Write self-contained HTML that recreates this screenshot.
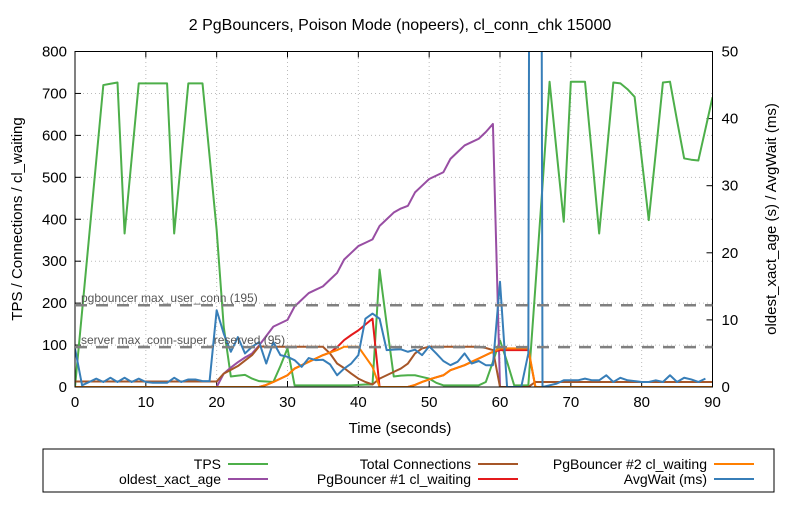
<!DOCTYPE html>
<html><head><meta charset="utf-8"><style>
body{margin:0;background:#fff;}
svg{font-family:"Liberation Sans",sans-serif;}
</style></head><body>
<svg id="chart" width="800" height="500" viewBox="0 0 800 500" xmlns="http://www.w3.org/2000/svg">
<rect width="800" height="500" fill="#fff"/>
<text x="400" y="30" text-anchor="middle" font-size="16">2 PgBouncers, Poison Mode (nopeers), cl_conn_chk 15000</text>
<g id="grid"></g>
<g id="ticks"></g>
<g id="series"></g>
<rect x="75" y="51.5" width="637.5" height="335.5" fill="none" stroke="#000" stroke-width="1"/>
<text x="400" y="433" text-anchor="middle" font-size="15">Time (seconds)</text>
<text transform="translate(22,219) rotate(-90)" text-anchor="middle" font-size="15">TPS / Connections / cl_waiting</text>
<text transform="translate(776,219) rotate(-90)" text-anchor="middle" font-size="15">oldest_xact_age (s) / AvgWait (ms)</text>
<g>
<rect x="43" y="449" width="731" height="43" fill="#fff" stroke="#000"/>
<g font-size="14" text-anchor="end">
<text x="221" y="469">TPS</text>
<line x1="228" y1="464" x2="268" y2="464" stroke="#4daf4a" stroke-width="2"/>
<text x="221" y="484">oldest_xact_age</text>
<line x1="228" y1="479" x2="268" y2="479" stroke="#984ea3" stroke-width="2"/>
<text x="471" y="469">Total Connections</text>
<line x1="478" y1="464" x2="518" y2="464" stroke="#a65628" stroke-width="2"/>
<text x="471" y="484">PgBouncer #1 cl_waiting</text>
<line x1="478" y1="479" x2="518" y2="479" stroke="#e41a1c" stroke-width="2"/>
<text x="707" y="469">PgBouncer #2 cl_waiting</text>
<line x1="714" y1="464" x2="754" y2="464" stroke="#ff7f00" stroke-width="2"/>
<text x="707" y="484">AvgWait (ms)</text>
<line x1="714" y1="479" x2="754" y2="479" stroke="#377eb8" stroke-width="2"/>
</g></g>
</svg>
<script>
const xTicks=[0,10,20,30,40,50,60,70,80,90];
const yTicks=[0,100,200,300,400,500,600,700,800];
const y2Ticks=[0,10,20,30,40,50];
const tps=[0,180,360,540,720,723,726,366,545,724,724,724,724,724,366,545,724,724,724,550,374,143,25,27,29,20,14,13,12,50,92,4,4,4,4,4,4,4,4,4,5,6,6,280,150,25,27,28,28,24,20,10,4,4,4,4,4,4,12,60,111,60,4,4,4,240,480,728,560,394,728,728,728,550,366,545,726,724,710,692,545,398,560,726,728,635,545,542,540,615,691];
const oldest=[0,0,0,0,0,0,0,0,0,0,0,0,0,0,0,0,0,0,0,0,0,2,2.9,3.7,4.4,5,6.2,7.6,9,9.5,10,12,13,14,14.5,15,16,17,19,20,21,21.5,22,24,25,26,26.6,27,29,30,31,31.5,32,34,35,36,36.5,37,38,39.2,0];
const totalConn=[13,13,13,13,13,13,13,13,13,13,13,13,13,13,13,13,13,13,13,13,13,32,41,50,63,76,97,96,96,96,96,96,96,96,96,96,80,56,45,32,20,12,6,20,28,36,44,56,80,92,96,96,96,96,96,96,96,96,93,88,0,0,0,0,0,12,12,12,12,12,12,12,12,12,12,12,12,12,12,12,12,12,12,12,12,12,12,12,12,12,12];
const pgb1Wait=[0,0,0,0,0,0,0,0,0,0,0,0,0,0,0,0,0,0,0,0,0,0,0,0,0,0,0,5,12,20,28,44,52,60,68,76,82,95,112,124,135,149,163,0,0,0,0,0,5,12,18,23,28,40,46,52,60,68,76,84,88,88,88,88,88,0,0,0,0,0,0,0,0,0,0,0,0,0,0,0,0,0,0,0,0,0,0,0,0,0,0];
const pgb2Wait=[0,0,0,0,0,0,0,0,0,0,0,0,0,0,0,0,0,0,0,0,0,0,0,0,0,0,0,5,12,20,28,44,52,60,68,76,82,88,96,96,96,72,48,0,0,0,0,0,5,12,18,23,28,40,46,52,60,68,76,84,92,92,92,92,92,0,0,0,0,0,0,0,0,0,0,0,0,0,0,0,0,0,0,0,0,0,0,0,0,0,0];
const avgWait=[92,4,12,20,12,22,12,22,12,20,12,10,10,10,22,12,18,18,14,14,183,127,84,119,80,96,107,56,107,76,72,64,48,69,64,65,54,28,44,56,76,163,175,163,88,89,90,84,89,76,97,80,62,52,60,80,56,62,52,52,251,0,0,0,80,7600,0,4,8,16,16,16,20,16,16,28,12,22,16,14,12,12,16,12,28,12,22,18,12,20];
const X0=75,X1=712.5,Y0=387,Y1=51.5;
const sx=t=>X0+(t/90)*(X1-X0);
const sy=v=>Y0-(v/800)*(Y0-Y1);
const NS="http://www.w3.org/2000/svg";
const svg=document.getElementById('chart');
const grid=document.getElementById('grid'),ticks=document.getElementById('ticks'),ser=document.getElementById('series');
function mk(tag,attrs,parent){const e=document.createElementNS(NS,tag);for(const k in attrs)e.setAttribute(k,attrs[k]);parent.appendChild(e);return e;}
// clip
const defs=mk('defs',{},svg);const cp=mk('clipPath',{id:'clip'},defs);mk('rect',{x:X0,y:Y1,width:X1-X0,height:Y0-Y1},cp);
ser.setAttribute('clip-path','url(#clip)');
xTicks.forEach(t=>{
 if(t>0&&t<90){const g=mk('line',{x1:sx(t),x2:sx(t),y1:Y0,y2:Y1,stroke:'#bbb','stroke-dasharray':'1,3'},grid);
 
 }
 mk('line',{x1:sx(t),x2:sx(t),y1:Y0,y2:Y0-6,stroke:'#000'},ticks);
 mk('line',{x1:sx(t),x2:sx(t),y1:Y1,y2:Y1+6,stroke:'#000'},ticks);
 const l=mk('text',{x:sx(t),y:Y0+20,'text-anchor':'middle','font-size':'15'},ticks);l.textContent=t;
 
 
});
yTicks.forEach(v=>{
 if(v>0&&v<800){const g=mk('line',{x1:X0,x2:X1,y1:sy(v),y2:sy(v),stroke:'#bbb','stroke-dasharray':'1,3'},grid);
 
 }
 mk('line',{x1:X0,x2:X0+6,y1:sy(v),y2:sy(v),stroke:'#000'},ticks);
 const l=mk('text',{x:X0-8,y:sy(v)+5,'text-anchor':'end','font-size':'15'},ticks);l.textContent=v;
 
 
});
y2Ticks.forEach(v=>{
 const y=sy(v*16);
 mk('line',{x1:X1,x2:X1-6,y1:y,y2:y,stroke:'#000'},ticks);
 const l=mk('text',{x:X1+9,y:y+5,'text-anchor':'start','font-size':'15'},ticks);l.textContent=v;
 
 
});
// reference lines
[[195,'pgbouncer max_user_conn (195)'],[95,'server max_conn-super_reserved (95)']].forEach(([v,txt])=>{
 const t=mk('text',{x:81,y:sy(v)-3,'font-size':'12',fill:'#555'},svg);t.textContent=txt;
 
 
 const l=mk('line',{x1:X0,x2:X1,y1:sy(v),y2:sy(v),stroke:'#808080','stroke-width':'2.5','stroke-dasharray':'12,9'},svg);
 
 
});
function line(arr,color,scale,name){
 const pts=arr.map((v,i)=>sx(i).toFixed(2)+','+sy(v*scale).toFixed(2)).join(' ');
 const p=mk('polyline',{points:pts,fill:'none',stroke:color,'stroke-width':'2','stroke-linejoin':'round'},ser);
 
 
}
line(tps,'#4daf4a',1,'tps-line');
line(oldest,'#984ea3',16,'oldest-xact-age-line');
line(totalConn,'#a65628',1,'total-connections-line');
line(pgb1Wait,'#e41a1c',1,'pgbouncer1-cl-waiting-line');
line(pgb2Wait,'#ff7f00',1,'pgbouncer2-cl-waiting-line');
line(avgWait,'#377eb8',1,'avgwait-line');
</script>
</body></html>
